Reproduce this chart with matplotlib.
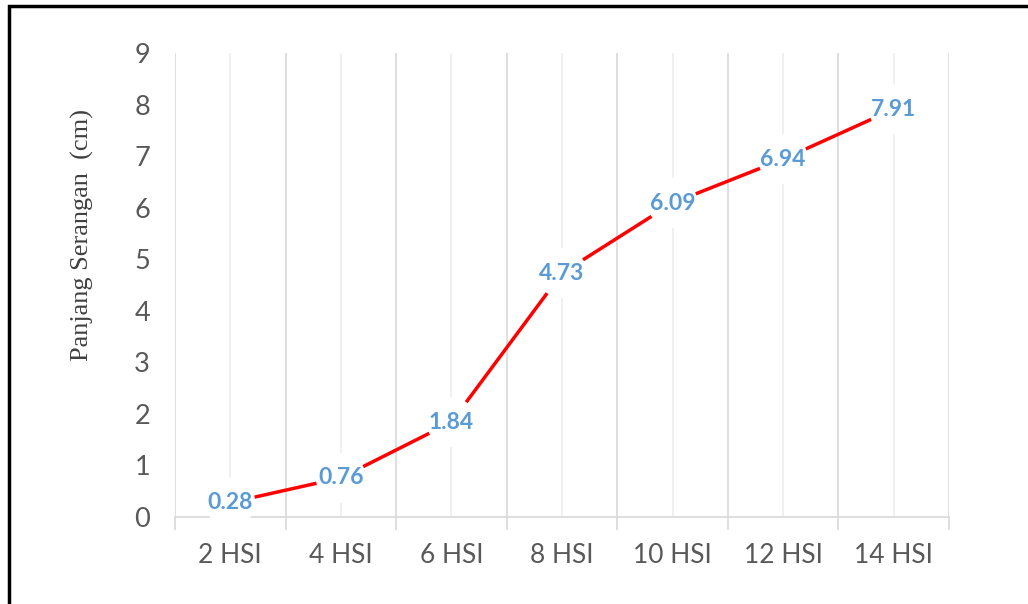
import matplotlib.pyplot as plt
from matplotlib.patches import Rectangle

# data
hari = ['2 HSI', '4 HSI', '6 HSI', '8 HSI', '10 HSI', '12 HSI', '14 HSI']
panjang = [0.28, 0.76, 1.84, 4.73, 6.09, 6.94, 7.91]
y_ticks = [0, 1, 2, 3, 4, 5, 6, 7, 8, 9]

fig = plt.figure(figsize=(10.28, 6.04), dpi=100)
ax = fig.add_axes([175 / 1028, 87 / 604, 774 / 1028, 464 / 604])

x = list(range(len(hari)))
ax.plot(x, panjang, color='#FF0000', linewidth=2.5, solid_capstyle='butt', zorder=2)

# data labels with white round background (Excel style)
for xi, v in zip(x, panjang):
    ax.text(xi, v, f'{v:.2f}', ha='center', va='center', fontsize=16.5,
            fontweight='bold', color='#5B9BD5', family='Lato', zorder=4,
            bbox=dict(boxstyle='circle,pad=0.1', fc='white', ec='none'))

ax.set_xlim(-0.5, len(hari) - 0.5)
ax.set_ylim(0, 9)
ax.set_yticks(y_ticks)

# gridlines: darker at category edges, lighter at category centres
for b in range(len(hari) + 1):
    ax.axvline(b - 0.5, color='#D9D9D9', linewidth=1.2, zorder=1)
for xi in x:
    ax.axvline(xi, color='#EEEEEE', linewidth=1.2, zorder=1)

ax.set_xticks([b - 0.5 for b in range(len(hari) + 1)])
ax.set_xticklabels([])
ax.set_xticks(x, minor=True)
ax.set_xticklabels(hari, minor=True)
ax.tick_params(axis='x', which='major', length=9, color='#D9D9D9', width=1.2)
ax.tick_params(axis='x', which='minor', length=0, pad=19, labelsize=19,
               labelcolor='#595959')
ax.tick_params(axis='y', length=0, pad=18, labelsize=19.5, labelcolor='#595959')
for lab in ax.get_xticklabels(minor=True) + ax.get_yticklabels():
    lab.set_family('Lato')

for s in ['top', 'right', 'left']:
    ax.spines[s].set_visible(False)
ax.spines['bottom'].set_color('#D9D9D9')
ax.spines['bottom'].set_linewidth(1.2)

fig.text(82 / 1028, 1 - 235 / 604, 'Panjang Serangan  (cm)', rotation=90,
         ha='center', va='center', fontsize=19, family='Liberation Serif',
         color='#404040')

# outer black frame (right and bottom edges lie outside the image)
fig.add_artist(Rectangle((9 / 1028, -0.2), 1.5, 1.2 - 6 / 604,
                         transform=fig.transFigure, fill=False,
                         edgecolor='black', linewidth=2.5))

fig.savefig('out.png', dpi=100)
